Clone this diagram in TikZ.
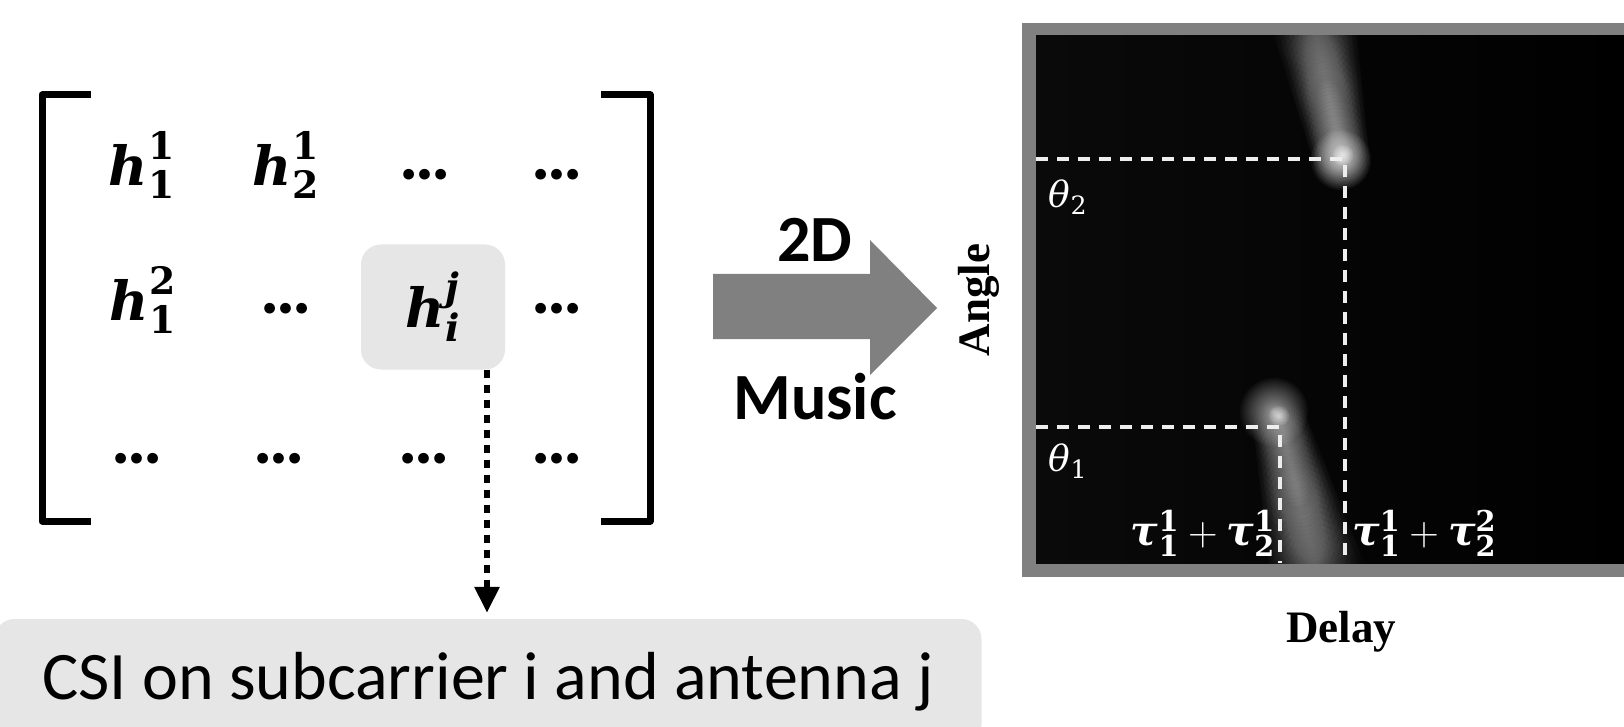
\documentclass[tikz,border=0pt]{standalone}
\usepackage{fix-cm}
\usepackage{fontspec}
\usepackage{amsmath}
\usetikzlibrary{arrows.meta}
\newfontfamily\calfont{Carlito}
\newfontfamily\timesfont{Liberation Serif}
\newfontfamily\symfont{DejaVu Serif}
\newcommand\vb[1]{\text{\symfont\bfseries\itshape #1}}   % bold italic symbol
\newcommand\vi[1]{\text{\symfont\itshape #1}}            % italic symbol
\newcommand\nb[1]{\text{\symfont\bfseries #1}}           % bold index
\newcommand\nr[1]{\text{\symfont #1}}                    % plain index
\definecolor{boxgray}{HTML}{E6E6E6}
\definecolor{midgray}{HTML}{808080}
\definecolor{dashwhite}{HTML}{EEEEEE}
\definecolor{mapdark}{HTML}{0A0A0A}
\definecolor{mapmid}{HTML}{141414}

\tikzset{
  bracket/.style={line width=7pt, line join=round},
  entry/.style={inner sep=0pt, font=\fontsize{54}{60}\selectfont},
  dots/.style={inner sep=0pt, font=\calfont\bfseries\fontsize{72}{76}\selectfont},
  hilite/.style={fill=boxgray, rounded corners=20pt, inner sep=0pt,
    minimum width=144pt, minimum height=125pt},
  dotarrow/.style={line width=6pt, dash pattern=on 8pt off 7pt,
    -{Triangle[width=24pt,length=26pt]}},
  bigword/.style={inner sep=0pt, font=\calfont\bfseries\fontsize{66}{70}\selectfont},
  axislabel/.style={inner sep=0pt, font=\timesfont\bfseries\fontsize{45}{48}\selectfont},
  peakline/.style={dashwhite, line width=4pt, dash pattern=on 12pt off 9pt},
  peaklabel/.style={inner sep=0pt, text=white, font=\fontsize{36}{40}\selectfont},
  taulabel/.style={inner sep=0pt, text=white, font=\fontsize{41}{44}\selectfont},
  csibox/.style={fill=boxgray, rounded corners=20pt, inner sep=0pt,
    minimum width=987pt, minimum height=126pt,
    font=\calfont\fontsize{68}{72}\selectfont},
}

% soft round glow at (#1,#2): radius #3, #4 layers, opacity #5 per layer;
% the layers crowd towards the centre, which gives a soft faint rim
\newcommand\glowdisc[5]{%
  \foreach \k in {1,...,#4}
    \fill[white, opacity=#5] ({#1},{#2}) circle [radius={#3*(\k/#4)^1.5}];%
}
% streak of glows from (#1,#2) to (#3,#4), radius growing from #5 to #6
\newcommand\glowstreak[7]{%
  \foreach \t in {0,0.05,...,1.01}{%
    \pgfmathsetmacro\gx{#1+\t*(#3-#1)}%
    \pgfmathsetmacro\gy{#2+\t*(#4-#2)}%
    \pgfmathsetmacro\gr{#5+\t*(#6-#5)}%
    \pgfmathsetmacro\ga{#7*(1-0.5*\t)}%
    \glowdisc{\gx}{\gy}{\gr}{12}{\ga}%
  }%
}

\begin{document}
\begin{tikzpicture}[x=1pt,y=-1pt]
\useasboundingbox (0,0) rectangle (1624,727);
\fill[white] (0,0) rectangle (1624,727);

% ---- channel matrix ----
\draw[bracket] (91,95) -- (42,95) -- (42,521) -- (91,521);
\draw[bracket] (601,95) -- (650,95) -- (650,521) -- (601,521);

\node[hilite] (hij) at (433,307) {};
\node[entry] (hijtxt) at (hij.center) {$\vb{h}_{\vb{i}}^{\vb{j}}$};

\node[entry] (h11) at (142,165) {$\vb{h}_{\nb{1}}^{\nb{1}}$};
\node[entry] (h21) at (286,165) {$\vb{h}_{\nb{2}}^{\nb{1}}$};
\node[dots] (d13) at (425,175) {…};
\node[dots] (d14) at (557,175) {…};

\node[entry] (h12) at (143,300) {$\vb{h}_{\nb{1}}^{\nb{2}}$};
\node[dots] (d22) at (286,309) {…};
\node[dots] (d24) at (557,309) {…};

\node[dots] (d31) at (137,459) {…};
\node[dots] (d32) at (279,459) {…};
\node[dots] (d33) at (424,459) {…};
\node[dots] (d34) at (557,459) {…};

% ---- explanation box ----
\node[csibox] (csi) at (488,682) {CSI on subcarrier i and antenna j};
\coordinate (dtop) at ([xshift=54pt]hij.south);
\draw[dotarrow, shorten >=6pt] (dtop) -- (dtop |- csi.north);

% ---- transform arrow ----
\fill[midgray] (713,274) -- (870,274) -- (870,240) -- (937,308)
  -- (870,375) -- (870,339) -- (713,339) -- cycle;
\node[bigword] (twoD) at (815,240) {2D};
\node[bigword] (music) at (815,397) {Music};

% ---- angle/delay spectrum ----
\fill[midgray] (1022,23) rectangle (1660,577);
\shade[left color=mapdark, middle color=mapmid, right color=black]
  (1036,36) rectangle (1624,563);

\begin{scope}
  \clip (1036,36) rectangle (1624,563);
  % faint broad band around the peaks
  \foreach \k in {1,...,30}
    \fill[white, opacity=0.004] (1300,300) ellipse [x radius={220*(\k/30)^1.5}, y radius={480*(\k/30)^1.5}];
  % upper peak: streak running up to the top edge, then the bright spot
  \glowstreak{1342}{160}{1314}{25}{28}{42}{0.02}
  \glowdisc{1341}{160}{30}{24}{0.05}
  \glowdisc{1343}{155}{10}{8}{0.12}
  % lower peak: streak running down to the bottom edge, then the bright spot
  \glowstreak{1281}{428}{1318}{575}{28}{48}{0.019}
  \glowdisc{1274}{412}{34}{24}{0.04}
  \glowdisc{1279}{416}{10}{8}{0.12}
\end{scope}

\coordinate (a2) at (1036,159);
\coordinate (p2) at (1345,159);
\coordinate (b2) at (1345,563);
\coordinate (a1) at (1036,427);
\coordinate (p1) at (1280,427);
\coordinate (b1) at (1280,563);
\draw[peakline] (a2) -- (p2) -- (b2);
\draw[peakline] (a1) -- (p1) -- (b1);

\node[peaklabel] (th2) at (1068,197) {$\vi{θ}_{\nr{2}}$};
\node[peaklabel] (th1) at (1068,461) {$\vi{θ}_{\nr{1}}$};
\node[taulabel, anchor=east]
  (tau1) at (1275,533) {$\vb{τ}_{\nb{1}}^{\nb{1}}+\vb{τ}_{\nb{2}}^{\nb{1}}$};
\node[taulabel, anchor=west]
  (tau2) at (1352,533) {$\vb{τ}_{\nb{1}}^{\nb{1}}+\vb{τ}_{\nb{2}}^{\nb{2}}$};

\node[axislabel, rotate=90] (angle) at (979,300) {Angle};
\node[axislabel] (delay) at (1341,632) {Delay};
\end{tikzpicture}
\end{document}
